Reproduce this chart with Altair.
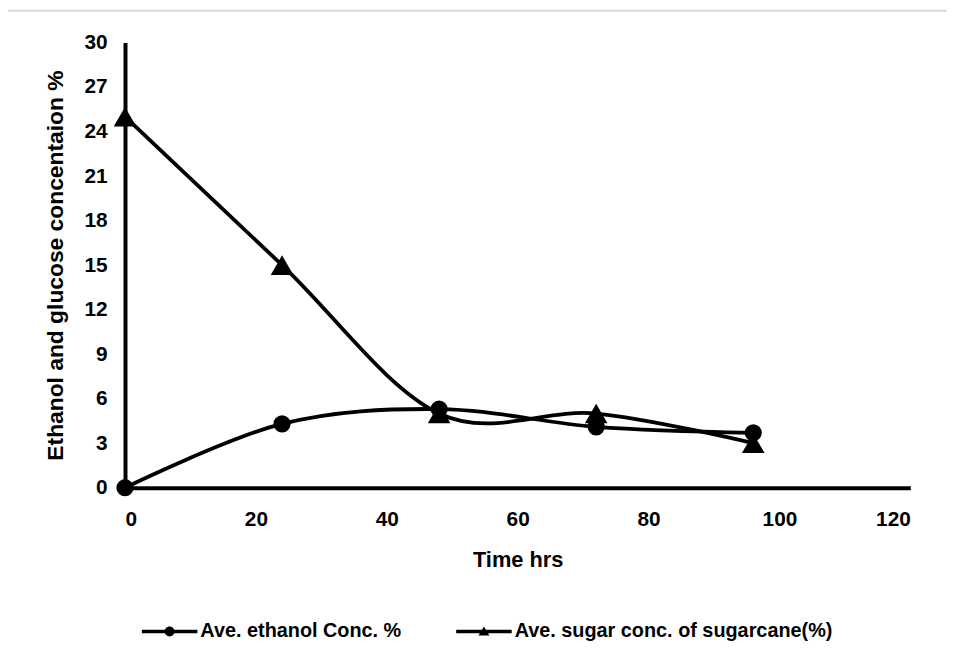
import altair as alt
import pandas as pd

time_hrs = [0, 24, 48, 72, 96]
ethanol = [0, 4.3, 5.3, 4.1, 3.7]
sugar = [25, 15, 5, 5, 3]
series_names = ["Ave. ethanol Conc. %", "Ave. sugar conc. of sugarcane(%)"]
x_ticks = [0, 20, 40, 60, 80, 100, 120]
y_ticks = [0, 3, 6, 9, 12, 15, 18, 21, 24, 27, 30]

rows = []
for t, e, s in zip(time_hrs, ethanol, sugar):
    rows.append({"time": t, "value": e, "series": series_names[0]})
    rows.append({"time": t, "value": s, "series": series_names[1]})
df = pd.DataFrame(rows)

FONT = "Liberation Sans, Arial, sans-serif"

x_enc = alt.X("time:Q", scale=alt.Scale(domain=[0, 120], nice=False),
              axis=alt.Axis(values=x_ticks, title="Time hrs", grid=False, ticks=False,
                            domainWidth=4, domainColor="black", labelFont=FONT,
                            labelFontWeight="bold", labelFontSize=21, labelColor="black",
                            labelPadding=21, titleFont=FONT, titleFontWeight="bold",
                            titleFontSize=22, titleColor="black", titlePadding=20))
y_enc = alt.Y("value:Q", scale=alt.Scale(domain=[0, 30], nice=False),
              axis=alt.Axis(values=y_ticks, title="Ethanol and glucose concentaion %",
                            grid=False, ticks=False, domainWidth=4, domainColor="black",
                            labelFont=FONT, labelFontWeight="bold",
                            labelFontSize=21, labelColor="black", labelPadding=18,
                            titleFont=FONT, titleFontWeight="bold", titleFontSize=23,
                            titleColor="black", titlePadding=17))

base = alt.Chart(df)

lines = base.mark_line(color="black", strokeWidth=3.8, interpolate="cardinal").encode(
    x=x_enc, y=y_enc, detail="series:N")

circles = base.transform_filter(alt.datum.series == series_names[0]).mark_point(
    filled=True, color="black", opacity=1, size=300, shape="circle").encode(
    x="time:Q", y="value:Q")
triangles = base.transform_filter(alt.datum.series == series_names[1]).mark_point(
    filled=True, color="black", opacity=1, size=520, shape="triangle-up").encode(
    x="time:Q", y="value:Q")

# legend symbols: filled line segment + marker (same winding so they unite)
circle_sym = ("M-1,-0.17 L4.6,-0.17 L4.6,0.17 L-1,0.17 Z "
              "M1.3,0 A0.5,0.5 0 1,1 2.3,0 A0.5,0.5 0 1,1 1.3,0 Z")
tri_sym = ("M-1,-0.17 L4.6,-0.17 L4.6,0.17 L-1,0.17 Z "
           "M1.8,-0.5 L2.35,0.4 L1.25,0.4 Z")

legend_pts = base.transform_calculate(lg="datum.series").mark_point(
    filled=True, color="black", size=400, opacity=0).encode(
    x="time:Q", y="value:Q",
    shape=alt.Shape("lg:N", scale=alt.Scale(domain=series_names, range=[circle_sym, tri_sym]),
                    legend=alt.Legend(title=None, orient="none", direction="horizontal",
                                      legendX=17, legendY=584, padding=0,
                                      symbolSize=400, symbolFillColor="black",
                                      symbolOpacity=1, symbolStrokeWidth=0,
                                      labelOffset=39, columnPadding=55,
                                      labelFont=FONT, labelFontWeight="bold",
                                      labelFontSize=20, labelColor="black",
                                      labelLimit=500)))

frame = alt.Chart(pd.DataFrame({"k": [0]})).mark_rect(
    fill=None, stroke="#d9d9d9", strokeWidth=2).encode(
    x=alt.value(-120), x2=alt.value(860), y=alt.value(-32), y2=alt.value(660))

chart = alt.layer(frame, lines, circles, triangles, legend_pts).properties(
    width=792, height=449,
    autosize=alt.AutoSizeParams(type="none"),
    padding={"left": 118, "top": 32, "right": 37, "bottom": 175},
).configure_view(stroke=None)

chart.save("out.html", embed_options={"renderer": "svg", "actions": False})
